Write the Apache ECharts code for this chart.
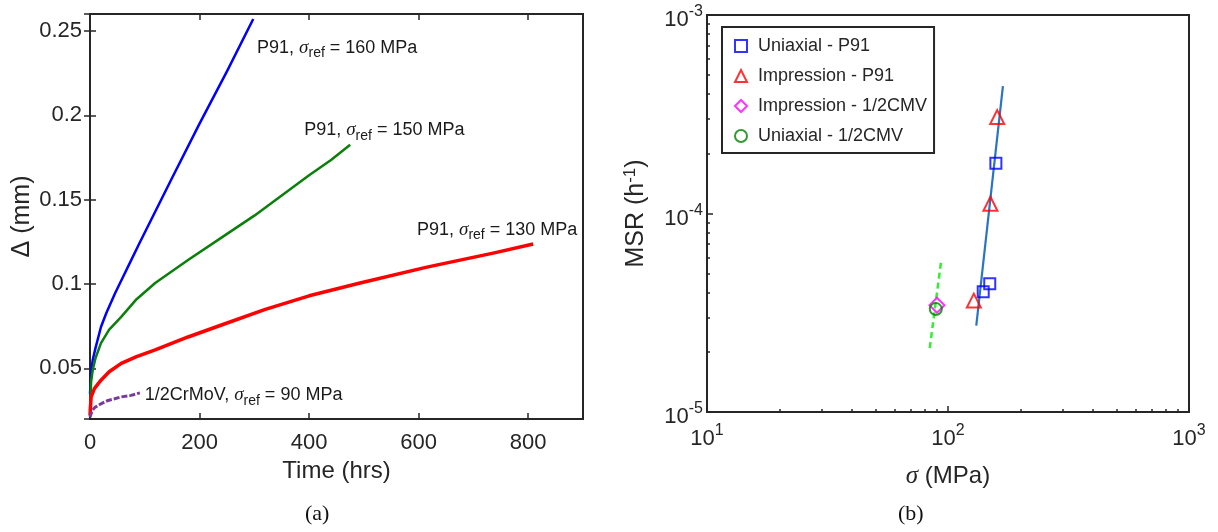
<!DOCTYPE html>
<html>
<head>
<meta charset="utf-8">
<script src="https://cdn.jsdelivr.net/npm/echarts@6/dist/echarts.min.js"></script>
<style>
html, body { margin: 0; padding: 0; background: #fff; }
#chart { width: 1218px; height: 532px; }
</style>
</head>
<body>
<div id="chart"></div>
<script>
// (a) creep displacement curves, time in hrs, displacement in mm
var time160 = [0, 2, 5, 10, 20, 30, 46, 60, 75, 90, 111, 150, 200, 250, 298];
var disp160 = [0.035, 0.048, 0.055, 0.062, 0.0745, 0.083, 0.0947, 0.104, 0.114, 0.124, 0.1376, 0.163, 0.195, 0.226, 0.257];

var time150 = [0, 2, 5, 10, 20, 35, 57, 85, 119, 179, 240, 300, 350, 400, 440, 475];
var disp150 = [0.025, 0.042, 0.049, 0.056, 0.065, 0.073, 0.0805, 0.091, 0.1006, 0.1142, 0.1275, 0.1405, 0.1525, 0.1645, 0.1735, 0.1825];

var time130 = [0, 2, 8, 20, 35, 57, 85, 119, 179, 240, 320, 400, 493, 615, 736, 809];
var disp130 = [0.022, 0.033, 0.038, 0.043, 0.048, 0.053, 0.057, 0.061, 0.0686, 0.0757, 0.085, 0.093, 0.1006, 0.110, 0.1183, 0.1237];

var time90 = [0, 4, 9, 20, 33, 45, 57, 75, 91];
var disp90 = [0.021, 0.025, 0.0269, 0.029, 0.031, 0.032, 0.0331, 0.034, 0.0355];

// curve labels: [time, disp, stress]
var curveLabels = [[305, 0.240, '160'], [391, 0.191, '150'], [597, 0.132, '130'], [100, 0.034, '90']];

// (b) minimum strain rate vs stress
var legendNames = ['Uniaxial - P91', 'Impression - P91', 'Impression - 1/2CMV', 'Uniaxial - 1/2CMV'];
var uniP91 = [[158, 1.79e-4], [149, 4.43e-5], [140, 4.04e-5]];
var impP91 = [[160, 3.06e-4], [150, 1.12e-4], [128, 3.64e-5]];
var imp12CMV = [[90, 3.45e-5]];
var uni12CMV = [[89, 3.3e-5]];
var fitP91 = [[131, 2.72e-5], [169, 4.38e-4]];
var fit12CMV = [[84, 2.1e-5], [93.5, 5.67e-5]];

var FONT = 'Liberation Sans, Arial, sans-serif';
var INK = '#262626';

function pairs(xs, ys) {
    return xs.map(function (x, i) { return [x, ys[i]]; });
}

function supLabel(v) {
    var e = Math.round(Math.log(v) / Math.LN10);
    return '{b|10}{sup|' + e + '}';
}

var supRich = {
    b: { fontSize: 22, fontFamily: FONT, color: INK, padding: [10, 0, 0, 0] },
    sup: { fontSize: 16, fontFamily: FONT, color: INK, padding: [0, 0, 6, 0] }
};

var annRich = {
    t: { fontSize: 18, fontFamily: FONT, color: '#1a1a1a' },
    s: { fontSize: 19, fontFamily: 'Liberation Serif, serif', fontStyle: 'italic', color: '#1a1a1a' },
    sub: { fontSize: 14, fontFamily: FONT, color: '#1a1a1a', padding: [11, 0, 0, 0] }
};

function curveSeries(name, xs, ys, color, width, lbl, dashed) {
    var prefix = lbl[2] === '90' ? '1/2CrMoV, ' : 'P91, ';
    return {
        name: name,
        type: 'line',
        xAxisIndex: 0,
        yAxisIndex: 0,
        data: pairs(xs, ys),
        showSymbol: false,
        lineStyle: { color: color, width: width, type: dashed ? [6, 2] : 'solid', join: 'round' },
        markPoint: {
            symbol: 'circle',
            symbolSize: 0,
            data: [{
                coord: [lbl[0], lbl[1]],
                label: {
                    show: true,
                    position: 'right',
                    distance: 0,
                    formatter: '{t|' + prefix + '}{s|σ}{sub|ref}{t| = ' + lbl[2] + ' MPa}',
                    rich: annRich
                }
            }]
        },
        z: 3
    };
}

function scatterSeries(name, data, symbol, size, color) {
    return {
        name: name,
        type: 'scatter',
        xAxisIndex: 2,
        yAxisIndex: 2,
        data: data,
        symbol: symbol,
        symbolSize: size,
        itemStyle: { color: 'rgba(255,255,255,0)', borderColor: color, borderWidth: 2 },
        z: 4
    };
}

function tickStyle(len) {
    return { show: true, inside: true, length: len, lineStyle: { color: INK, width: 1.5 } };
}

var chart = echarts.init(document.getElementById('chart'), null, { renderer: 'canvas' });

var option = {
    backgroundColor: '#fff',
    animation: false,
    grid: [
        { left: 90, top: 14, width: 493, height: 405, show: true, borderColor: INK, borderWidth: 2 },
        { left: 707, top: 15, width: 482, height: 397, show: true, borderColor: INK, borderWidth: 2 }
    ],
    xAxis: [
        {
            gridIndex: 0, type: 'value', min: 0, max: 900, interval: 200,
            name: 'Time (hrs)', nameLocation: 'middle', nameGap: 37,
            nameTextStyle: { fontSize: 24, fontFamily: FONT, color: INK },
            axisLine: { show: false }, axisTick: tickStyle(6), splitLine: { show: false },
            axisLabel: { fontSize: 22, fontFamily: FONT, color: INK, margin: 13, showMaxLabel: false }
        },
        {
            gridIndex: 0, type: 'value', position: 'top', min: 0, max: 900, interval: 200,
            axisLine: { show: false }, axisTick: tickStyle(6), splitLine: { show: false },
            axisLabel: { show: false }
        },
        {
            gridIndex: 1, type: 'log', logBase: 10, min: 10, max: 1000,
            name: '{s|σ}{t| (MPa)}', nameLocation: 'middle', nameGap: 52,
            nameTextStyle: {
                rich: {
                    s: { fontSize: 25, fontFamily: 'Liberation Serif, serif', fontStyle: 'italic', color: INK },
                    t: { fontSize: 24, fontFamily: FONT, color: INK }
                }
            },
            axisLine: { show: false },
            axisTick: tickStyle(6),
            minorTick: { show: true, splitNumber: 9, length: 3, lineStyle: { color: INK, width: 1.5 } },
            splitLine: { show: false },
            axisLabel: { formatter: supLabel, rich: supRich, margin: 6 }
        }
    ],
    yAxis: [
        {
            gridIndex: 0, type: 'value', min: 0.02, max: 0.26, splitNumber: 5,
            name: 'Δ (mm)', nameLocation: 'middle', nameGap: 55,
            nameTextStyle: { fontSize: 25, fontFamily: FONT, color: INK },
            axisLine: { show: false }, axisTick: tickStyle(6), splitLine: { show: false },
            axisLabel: { fontSize: 22, fontFamily: FONT, color: INK, margin: 8, showMinLabel: false, showMaxLabel: false }
        },
        {
            gridIndex: 0, type: 'value', position: 'right', min: 0.02, max: 0.26, splitNumber: 5,
            axisLine: { show: false }, axisTick: tickStyle(6), splitLine: { show: false },
            axisLabel: { show: false }
        },
        {
            gridIndex: 1, type: 'log', logBase: 10, min: 1e-5, max: 1e-3,
            name: 'MSR (h{sup|-1})', nameLocation: 'middle', nameGap: 56,
            nameTextStyle: {
                fontSize: 25, fontFamily: FONT, color: INK,
                rich: { sup: { fontSize: 17, fontFamily: FONT, color: INK, padding: [0, 0, 12, 0] } }
            },
            axisLine: { show: false },
            axisTick: tickStyle(6),
            minorTick: { show: true, splitNumber: 9, length: 3, lineStyle: { color: INK, width: 1.5 } },
            splitLine: { show: false },
            axisLabel: { formatter: supLabel, rich: supRich, margin: 4 }
        }
    ],
    legend: {
        data: legendNames,
        orient: 'vertical',
        left: 722,
        top: 27,
        padding: [10, 7, 8, 12],
        itemGap: 12,
        itemWidth: 12,
        itemHeight: 12,
        borderColor: INK,
        borderWidth: 2,
        backgroundColor: '#fff',
        textStyle: { fontSize: 18, fontFamily: FONT, color: INK, padding: [0, 0, 0, 6] }
    },
    graphic: [
        { type: 'text', left: 305, top: 503, style: { text: '(a)', font: '22px "Liberation Serif", serif', fill: '#111' } },
        { type: 'text', left: 898, top: 503, style: { text: '(b)', font: '22px "Liberation Serif", serif', fill: '#111' } }
    ],
    series: [
        curveSeries('160', time160, disp160, '#0000ff', 2.5, curveLabels[0], false),
        curveSeries('150', time150, disp150, '#0a800a', 2.5, curveLabels[1], false),
        curveSeries('130', time130, disp130, '#ff0000', 3.5, curveLabels[2], false),
        curveSeries('90', time90, disp90, '#7a3a9a', 3, curveLabels[3], true),
        {
            name: 'fitP91', type: 'line', xAxisIndex: 2, yAxisIndex: 2, data: fitP91,
            showSymbol: false, lineStyle: { color: '#2a74c4', width: 2.2 }, z: 3
        },
        {
            name: 'fit12CMV', type: 'line', xAxisIndex: 2, yAxisIndex: 2, data: fit12CMV,
            showSymbol: false, lineStyle: { color: '#33ee33', width: 2.5, type: [6, 4] }, z: 3
        },
        scatterSeries(legendNames[0], uniP91, 'rect', 11, '#0000ff'),
        scatterSeries(legendNames[1], impP91, 'triangle', 14, '#ff0000'),
        scatterSeries(legendNames[2], imp12CMV, 'diamond', 15, '#ff00ff'),
        scatterSeries(legendNames[3], uni12CMV, 'circle', 12, '#008000')
    ]
};

chart.setOption(option);
</script>
</body>
</html>
